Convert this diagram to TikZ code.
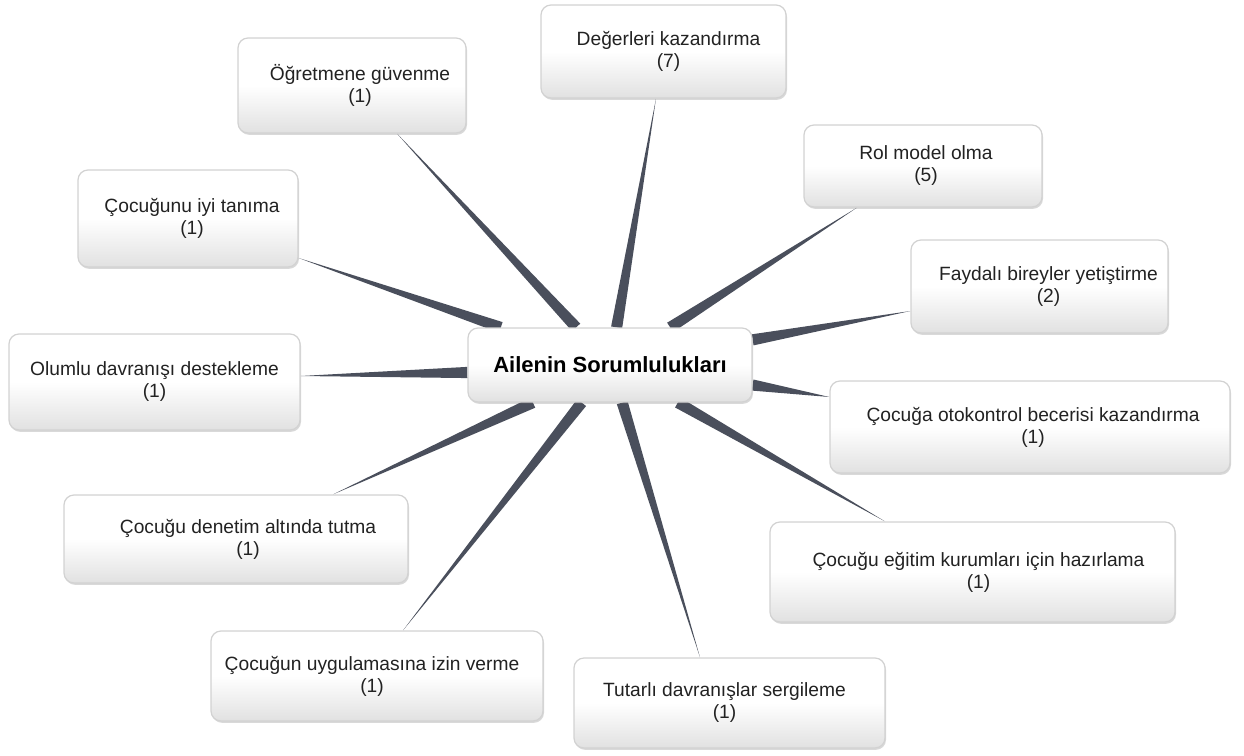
\documentclass[tikz,border=0pt]{standalone}
\usepackage{fontspec}
\setmainfont{Liberation Sans}
\usetikzlibrary{calc,shadows,backgrounds}
\definecolor{conn}{RGB}{74,79,92}
\definecolor{bord}{RGB}{210,210,210}
\definecolor{shadebot}{RGB}{225,225,225}
\definecolor{txt}{RGB}{34,34,34}
\tikzset{
  box/.style={draw=bord, line width=0.6pt, rounded corners=5pt,
    top color=white, bottom color=shadebot, middle color=white,
    drop shadow={shadow xshift=0.5pt, shadow yshift=-0.9pt, opacity=0.25, fill=black!60},
    align=center, text=txt, inner sep=2pt,
    font=\fontsize{9.6}{11}\selectfont},
  hub/.style={box, font=\fontsize{11}{13}\selectfont\bfseries, text=black},
  spokefill/.style={fill=conn}
}
\newcommand\tx[3]{\hspace*{#1}#2\\\hspace*{#1}#3}
\newcommand\spoke[2]{%
  \fill[spokefill] let \p1=(#1.center), \p2=(#2), \n1={atan2(\y2-\y1,\x2-\x1)} in
    ($(#1.\n1)!2.8pt!90:(\p2)$) -- (\p2) -- ($(#1.\n1)!2.8pt!-90:(\p2)$) -- cycle;}
\begin{document}
\begin{tikzpicture}[x=0.5pt,y=-0.5pt]
\useasboundingbox (0,0) rectangle (1244,756);
\node[hub, minimum width=142pt, minimum height=37pt] (F) at (610,365) {Ailenin Sorumlulukları};
\node[box, minimum width=122.5pt, minimum height=46.5pt] (A) at (663.5,51.5) {\tx{5pt}{Değerleri kazandırma}{(7)}};
\node[box, minimum width=114pt, minimum height=47.5pt] (B) at (352,85.5) {\tx{8pt}{Öğretmene güvenme}{(1)}};
\node[box, minimum width=119pt, minimum height=41pt] (C) at (923,166) {\tx{3pt}{Rol model olma}{(5)}};
\node[box, minimum width=110pt, minimum height=48.5pt] (D) at (188,218.5) {\tx{4pt}{Çocuğunu iyi tanıma}{(1)}};
\node[box, minimum width=128.5pt, minimum height=46.5pt] (E) at (1039.5,286.5) {\tx{9pt}{Faydalı bireyler yetiştirme}{(2)}};
\node[box, minimum width=145.5pt, minimum height=48pt] (G) at (154.5,382) {Olumlu davranışı destekleme\\(1)};
\node[box, minimum width=200pt, minimum height=46pt] (H) at (1030,427) {\tx{3pt}{Çocuğa otokontrol becerisi kazandırma}{(1)}};
\node[box, minimum width=172pt, minimum height=44pt] (I) at (236,539) {\tx{12pt}{Çocuğu denetim altında tutma}{(1)}};
\node[box, minimum width=202.5pt, minimum height=50pt] (J) at (972.5,572) {\tx{6pt}{Çocuğu eğitim kurumları için hazırlama}{(1)}};
\node[box, minimum width=166pt, minimum height=45pt] (K) at (377,676) {\tx{-5pt}{Çocuğun uygulamasına izin verme}{(1)}};
\node[box, minimum width=155.5pt, minimum height=45pt] (L) at (729.5,703) {\tx{-5pt}{Tutarlı davranışlar sergileme}{(1)}};
\coordinate (tA) at ([xshift=-3.75pt]A.south);
\coordinate (tB) at ([xshift=22.5pt]B.south);
\coordinate (tC) at ([xshift=-33pt]C.south);
\coordinate (tD) at ([yshift=-19.75pt]D.east);
\coordinate (tE) at ([yshift=-12.25pt]E.west);
\coordinate (tG) at ([yshift=3pt]G.east);
\coordinate (tH) at ([yshift=15pt]H.west);
\coordinate (tI) at ([xshift=48.5pt]I.north);
\coordinate (tJ) at ([xshift=-43.75pt]J.north);
\coordinate (tK) at ([xshift=13pt]K.north);
\coordinate (tL) at ([xshift=-14.75pt]L.north);
\begin{scope}[on background layer]
\spoke{F}{tA}
\spoke{F}{tB}
\spoke{F}{tC}
\spoke{F}{tD}
\spoke{F}{tE}
\spoke{F}{tG}
\spoke{F}{tH}
\spoke{F}{tI}
\spoke{F}{tJ}
\spoke{F}{tK}
\spoke{F}{tL}
\end{scope}
\end{tikzpicture}
\end{document}
